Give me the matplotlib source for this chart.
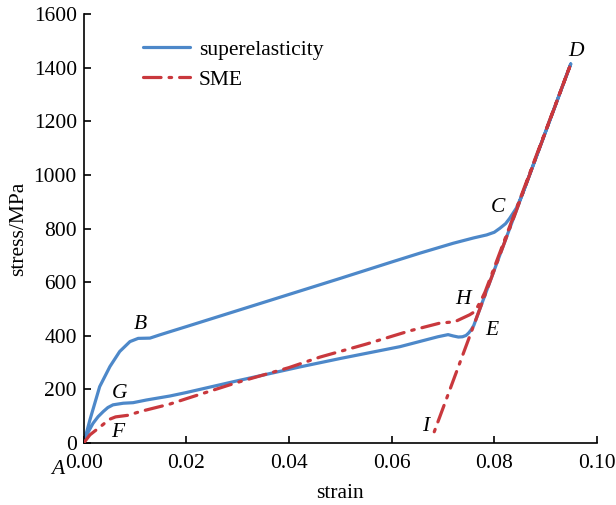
import matplotlib
matplotlib.use('Agg')
import matplotlib.pyplot as plt

# superelastic loop A-B-C-D-E-G-A
se_strain = [0.0, 0.0012, 0.0031, 0.0051, 0.0070, 0.0090, 0.0106, 0.0129, 0.0148, 0.0168,
             0.020, 0.030, 0.040, 0.050, 0.060, 0.0655, 0.0720, 0.0760, 0.0785, 0.0800,
             0.0811, 0.0822, 0.0830, 0.0843, 0.0855, 0.0949,
             0.0855, 0.0800, 0.0770, 0.0760, 0.0755, 0.0750, 0.0745, 0.0738, 0.0730,
             0.0720, 0.0710, 0.0690, 0.0616, 0.050, 0.042, 0.030, 0.020, 0.0168, 0.0122,
             0.0096, 0.0077, 0.0057, 0.0047, 0.0038, 0.0028, 0.0018, 0.0008, 0.0]
se_stress = [0, 86, 210, 285, 341, 378, 390, 391, 403, 415,
             434, 494, 554, 614, 675, 708, 745, 765, 776, 786,
             801, 818, 838, 876, 929, 1414,
             929, 645, 490, 438, 422, 410, 401, 396, 395,
             399, 404, 396, 359, 315, 283, 232, 188, 175, 160,
             150, 148, 142, 132, 117, 98, 73, 38, 0]

# shape memory effect curve A-F-H-D-I
sme_strain = [0.0, 0.0012, 0.0034, 0.0050, 0.0062, 0.0086, 0.0112, 0.0168, 0.020, 0.030,
              0.040, 0.046, 0.0551, 0.0635, 0.0694, 0.0723, 0.0752, 0.0762, 0.0768, 0.0775,
              0.0782, 0.0949, 0.0680]
sme_stress = [0, 30, 63, 88, 97, 103, 118, 145, 165, 226,
              281, 320, 369, 418, 447, 452, 478, 490, 510, 535,
              563, 1414, 26]

# point labels (letter, strain, stress)
pt_names = ['A', 'B', 'C', 'D', 'E', 'F', 'G', 'H', 'I']
pt_x = [-0.0050, 0.0110, 0.0808, 0.0959, 0.0795, 0.0067, 0.0069, 0.0739, 0.0667]
pt_y = [-101, 440, 877, 1460, 421, 40, 185, 536, 61]

plt.rcParams['font.family'] = ['Liberation Serif', 'DejaVu Serif']
fs = 15.5

fig = plt.figure(figsize=(6.16, 5.05), dpi=100)
ax = fig.add_axes([0.136, 0.123, 0.833, 0.849])

blue = '#4d88c9'
red = '#c9383d'
ax.plot(se_strain, se_stress, color=blue, lw=2.3, solid_joinstyle='round',
        solid_capstyle='round', label='superelasticity', zorder=2)
ax.plot(sme_strain, sme_stress, color=red, lw=2.3, linestyle=(0, (5.5, 2.5, 0.8, 2.5)),
        dash_capstyle='round', dash_joinstyle='round', label='SME', zorder=3)

for name, x, y in zip(pt_names, pt_x, pt_y):
    ax.text(x, y, name, style='italic', fontsize=fs, ha='center', va='center', clip_on=False)

ax.set_xlim(0, 0.1)
ax.set_ylim(0, 1600)
ax.set_xticks([0.0, 0.02, 0.04, 0.06, 0.08, 0.10])
ax.set_xticklabels(['0.00', '0.02', '0.04', '0.06', '0.08', '0.10'])
ax.set_yticks(range(0, 1601, 200))
ax.tick_params(direction='in', length=5, width=1.2, labelsize=fs)
ax.tick_params(axis='x', pad=8)
ax.tick_params(axis='y', pad=5)
for s in ['top', 'right']:
    ax.spines[s].set_visible(False)
for s in ['left', 'bottom']:
    ax.spines[s].set_linewidth(1.2)

ax.set_xlabel('strain', fontsize=fs, labelpad=8)
ax.set_ylabel('stress/MPa', fontsize=fs, labelpad=4)

ax.legend(loc='upper left', bbox_to_anchor=(0.077, 0.985), frameon=False, fontsize=fs,
          handlelength=2.2, handletextpad=0.4, labelspacing=0.45)

fig.savefig('out.png', dpi=100)
